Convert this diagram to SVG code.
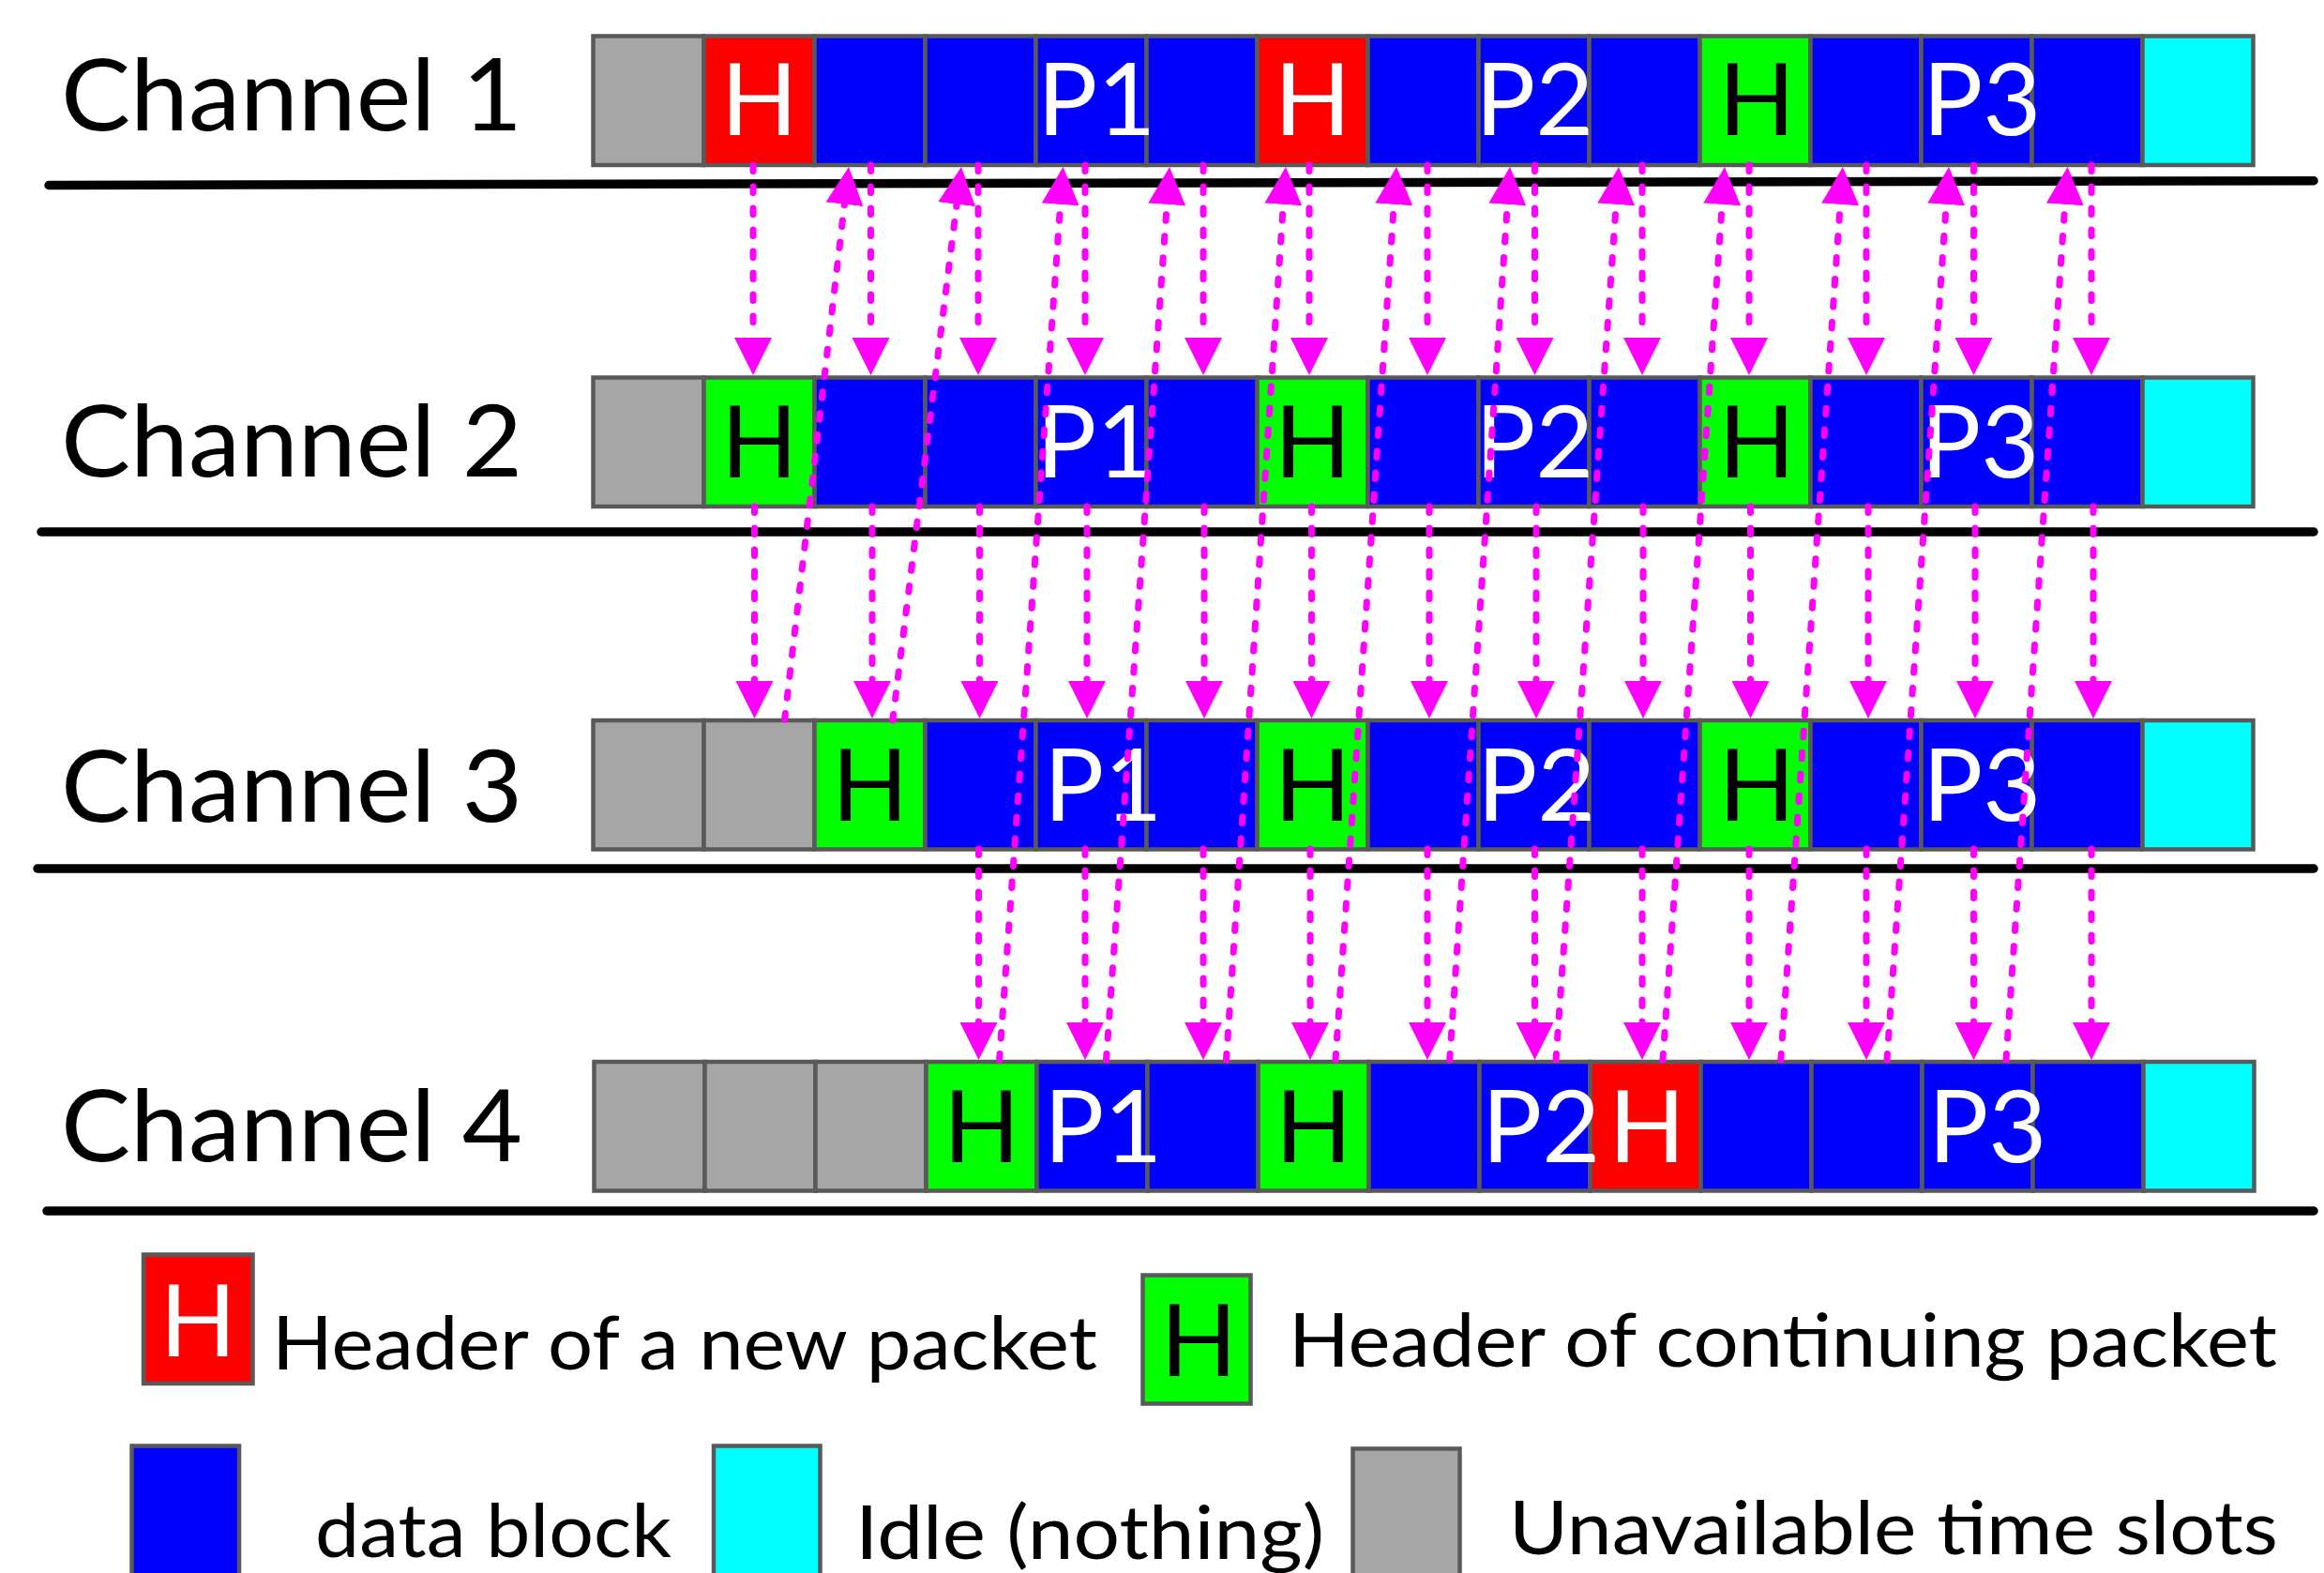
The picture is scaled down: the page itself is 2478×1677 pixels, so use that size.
<svg xmlns="http://www.w3.org/2000/svg" width="2478" height="1677" viewBox="0 0 2478 1677">
  <style>
    .cell { stroke: #595959; stroke-width: 4.5; stroke-linejoin: miter; }
    .gray { fill: #A6A6A6; }
    .red { fill: #FF0000; }
    .blue { fill: #0000FF; }
    .green { fill: #00FF00; }
    .cyan { fill: #00FFFF; }
    .label { font-family: Lato, "Open Sans", "DejaVu Sans", sans-serif; font-size: 107px; fill: #000; }
    .ctext { font-family: Lato, "Open Sans", "DejaVu Sans", sans-serif; font-size: 107px; }
    .mid { text-anchor: middle; }
    .w { fill: #FFFFFF; }
    .k { fill: #000000; }
    .legend { font-family: Lato, "Open Sans", "DejaVu Sans", sans-serif; font-size: 80px; fill: #000; }
    .rule { stroke: #000; stroke-width: 9.5; stroke-linecap: round; fill: none; }
    .link { stroke: #FF00FF; stroke-width: 7; stroke-dasharray: 6.5 16.5; stroke-linecap: round; fill: none; marker-end: url(#head); }
  </style>
  <defs>
    <marker id="head" markerUnits="userSpaceOnUse" viewBox="0 0 40 40" markerWidth="40" markerHeight="40" refX="0" refY="20" orient="auto">
      <path d="M0,0 L40,20 L0,40 Z" fill="#FF00FF"/>
    </marker>
  </defs>

  <!-- channel separators -->
  <g id="rules">
    <path class="rule" d="M52,197.5 L2467,192.7"/>
    <path class="rule" d="M44,567 L2467,567"/>
    <path class="rule" d="M40,926 L2467,926"/>
    <path class="rule" d="M50,1291 L2467,1291"/>
  </g>

  <!-- Channel 1 -->
  <g id="channel-1">
    <text class="label" x="65" y="138.5" textLength="492" lengthAdjust="spacingAndGlyphs">Channel 1</text>
    <g transform="translate(0,38.5)">
      <rect class="cell gray" x="632.5" y="0" width="118" height="137.5"/>
      <rect class="cell red" x="750.5" y="0" width="118" height="137.5"/>
      <rect class="cell blue" x="868.5" y="0" width="118" height="137.5"/>
      <rect class="cell blue" x="986.5" y="0" width="118" height="137.5"/>
      <rect class="cell blue" x="1104.5" y="0" width="118" height="137.5"/>
      <rect class="cell blue" x="1222.5" y="0" width="118" height="137.5"/>
      <rect class="cell red" x="1340.5" y="0" width="118" height="137.5"/>
      <rect class="cell blue" x="1458.5" y="0" width="118" height="137.5"/>
      <rect class="cell blue" x="1576.5" y="0" width="118" height="137.5"/>
      <rect class="cell blue" x="1694.5" y="0" width="118" height="137.5"/>
      <rect class="cell green" x="1812.5" y="0" width="118" height="137.5"/>
      <rect class="cell blue" x="1930.5" y="0" width="118" height="137.5"/>
      <rect class="cell blue" x="2048.5" y="0" width="118" height="137.5"/>
      <rect class="cell blue" x="2166.5" y="0" width="118" height="137.5"/>
      <rect class="cell cyan" x="2284.5" y="0" width="118" height="137.5"/>
      <text class="ctext w mid" x="809.5" y="105">H</text>
      <text class="ctext w" x="1106" y="105">P1</text>
      <text class="ctext w mid" x="1399.5" y="105">H</text>
      <text class="ctext w" x="1573" y="105">P2</text>
      <text class="ctext k mid" x="1873" y="105">H</text>
      <text class="ctext w" x="2050" y="105">P3</text>
    </g>
  </g>

  <!-- Channel 2 -->
  <g id="channel-2">
    <text class="label" x="65" y="508" textLength="492" lengthAdjust="spacingAndGlyphs">Channel 2</text>
    <g transform="translate(0,402.5)">
      <rect class="cell gray" x="632.5" y="0" width="118" height="137.5"/>
      <rect class="cell green" x="750.5" y="0" width="118" height="137.5"/>
      <rect class="cell blue" x="868.5" y="0" width="118" height="137.5"/>
      <rect class="cell blue" x="986.5" y="0" width="118" height="137.5"/>
      <rect class="cell blue" x="1104.5" y="0" width="118" height="137.5"/>
      <rect class="cell blue" x="1222.5" y="0" width="118" height="137.5"/>
      <rect class="cell green" x="1340.5" y="0" width="118" height="137.5"/>
      <rect class="cell blue" x="1458.5" y="0" width="118" height="137.5"/>
      <rect class="cell blue" x="1576.5" y="0" width="118" height="137.5"/>
      <rect class="cell blue" x="1694.5" y="0" width="118" height="137.5"/>
      <rect class="cell green" x="1812.5" y="0" width="118" height="137.5"/>
      <rect class="cell blue" x="1930.5" y="0" width="118" height="137.5"/>
      <rect class="cell blue" x="2048.5" y="0" width="118" height="137.5"/>
      <rect class="cell blue" x="2166.5" y="0" width="118" height="137.5"/>
      <rect class="cell cyan" x="2284.5" y="0" width="118" height="137.5"/>
      <text class="ctext k mid" x="809.5" y="106">H</text>
      <text class="ctext w" x="1105" y="106">P1</text>
      <text class="ctext k mid" x="1399.5" y="106">H</text>
      <text class="ctext w" x="1573" y="106">P2</text>
      <text class="ctext k mid" x="1873" y="106">H</text>
      <text class="ctext w" x="2048" y="106">P3</text>
    </g>
  </g>

  <!-- Channel 3 -->
  <g id="channel-3">
    <text class="label" x="65" y="876" textLength="492" lengthAdjust="spacingAndGlyphs">Channel 3</text>
    <g transform="translate(0,768)">
      <rect class="cell gray" x="632.5" y="0" width="118" height="137.5"/>
      <rect class="cell gray" x="750.5" y="0" width="118" height="137.5"/>
      <rect class="cell green" x="868.5" y="0" width="118" height="137.5"/>
      <rect class="cell blue" x="986.5" y="0" width="118" height="137.5"/>
      <rect class="cell blue" x="1104.5" y="0" width="118" height="137.5"/>
      <rect class="cell blue" x="1222.5" y="0" width="118" height="137.5"/>
      <rect class="cell green" x="1340.5" y="0" width="118" height="137.5"/>
      <rect class="cell blue" x="1458.5" y="0" width="118" height="137.5"/>
      <rect class="cell blue" x="1576.5" y="0" width="118" height="137.5"/>
      <rect class="cell blue" x="1694.5" y="0" width="118" height="137.5"/>
      <rect class="cell green" x="1812.5" y="0" width="118" height="137.5"/>
      <rect class="cell blue" x="1930.5" y="0" width="118" height="137.5"/>
      <rect class="cell blue" x="2048.5" y="0" width="118" height="137.5"/>
      <rect class="cell blue" x="2166.5" y="0" width="118" height="137.5"/>
      <rect class="cell cyan" x="2284.5" y="0" width="118" height="137.5"/>
      <text class="ctext k mid" x="927.5" y="107">H</text>
      <text class="ctext w" x="1113" y="107">P1</text>
      <text class="ctext k mid" x="1399.5" y="107">H</text>
      <text class="ctext w" x="1575" y="107">P2</text>
      <text class="ctext k mid" x="1873" y="107">H</text>
      <text class="ctext w" x="2050" y="107">P3</text>
    </g>
  </g>

  <!-- Channel 4 -->
  <g id="channel-4">
    <text class="label" x="65" y="1238" textLength="492" lengthAdjust="spacingAndGlyphs">Channel 4</text>
    <g transform="translate(1,1132)">
      <rect class="cell gray" x="632.5" y="0" width="118" height="137.5"/>
      <rect class="cell gray" x="750.5" y="0" width="118" height="137.5"/>
      <rect class="cell gray" x="868.5" y="0" width="118" height="137.5"/>
      <rect class="cell green" x="986.5" y="0" width="118" height="137.5"/>
      <rect class="cell blue" x="1104.5" y="0" width="118" height="137.5"/>
      <rect class="cell blue" x="1222.5" y="0" width="118" height="137.5"/>
      <rect class="cell green" x="1340.5" y="0" width="118" height="137.5"/>
      <rect class="cell blue" x="1458.5" y="0" width="118" height="137.5"/>
      <rect class="cell blue" x="1576.5" y="0" width="118" height="137.5"/>
      <rect class="cell red" x="1694.5" y="0" width="118" height="137.5"/>
      <rect class="cell blue" x="1812.5" y="0" width="118" height="137.5"/>
      <rect class="cell blue" x="1930.5" y="0" width="118" height="137.5"/>
      <rect class="cell blue" x="2048.5" y="0" width="118" height="137.5"/>
      <rect class="cell blue" x="2166.5" y="0" width="118" height="137.5"/>
      <rect class="cell cyan" x="2284.5" y="0" width="118" height="137.5"/>
      <text class="ctext k mid" x="1045.5" y="107">H</text>
      <text class="ctext w" x="1112" y="107">P1</text>
      <text class="ctext k mid" x="1399.5" y="107">H</text>
      <text class="ctext w" x="1579" y="107">P2</text>
      <text class="ctext w mid" x="1755" y="107">H</text>
      <text class="ctext w" x="2055" y="107">P3</text>
    </g>
  </g>

  <!-- Legend -->
  <g id="legend-new-header">
    <rect class="cell red" x="153" y="1337.5" width="116.5" height="137.5"/>
    <text class="ctext w mid" x="211" y="1445.5">H</text>
    <text class="legend" x="290" y="1460" textLength="880" lengthAdjust="spacingAndGlyphs">Header of a new packet</text>
  </g>
  <g id="legend-continuing-header">
    <rect class="cell green" x="1218.5" y="1359.5" width="115" height="137"/>
    <text class="ctext k mid" x="1278" y="1467">H</text>
    <text class="legend" x="1374" y="1457" textLength="1054" lengthAdjust="spacingAndGlyphs">Header of continuing packet</text>
  </g>
  <g id="legend-data">
    <rect class="cell blue" x="140.5" y="1541.5" width="114.5" height="142"/>
    <text class="legend" x="336" y="1660" textLength="380" lengthAdjust="spacingAndGlyphs">data block</text>
  </g>
  <g id="legend-idle">
    <rect class="cell cyan" x="761" y="1541.5" width="113.5" height="142"/>
    <text class="legend" x="912" y="1662" textLength="500" lengthAdjust="spacingAndGlyphs">Idle (nothing)</text>
  </g>
  <g id="legend-unavailable">
    <rect class="cell gray" x="1442.5" y="1544.5" width="114" height="142"/>
    <text class="legend" x="1609" y="1657" textLength="820" lengthAdjust="spacingAndGlyphs">Unavailable time slots</text>
  </g>

  <!-- Block transfers between channels -->
  <g id="connectors">
    <!-- channel 1 to channel 2 -->
    <path class="link" d="M803,176 L803,360"/>
    <path class="link" d="M928.5,176 L928.5,360"/>
    <path class="link" d="M1043,176 L1043,360"/>
    <path class="link" d="M1157,176 L1157,360"/>
    <path class="link" d="M1283,176 L1283,360"/>
    <path class="link" d="M1396,176 L1396,360"/>
    <path class="link" d="M1522,176 L1522,360"/>
    <path class="link" d="M1636.5,176 L1636.5,360"/>
    <path class="link" d="M1751,176 L1751,360"/>
    <path class="link" d="M1865,176 L1865,360"/>
    <path class="link" d="M1990,176 L1990,360"/>
    <path class="link" d="M2104.5,176 L2104.5,360"/>
    <path class="link" d="M2230,176 L2230,360"/>
    <!-- channel 2 to channel 3 -->
    <path class="link" d="M804.5,540 L804.5,726"/>
    <path class="link" d="M930,540 L930,726"/>
    <path class="link" d="M1044.5,540 L1044.5,726"/>
    <path class="link" d="M1159,540 L1159,726"/>
    <path class="link" d="M1284,540 L1284,726"/>
    <path class="link" d="M1398.5,540 L1398.5,726"/>
    <path class="link" d="M1524,540 L1524,726"/>
    <path class="link" d="M1638,540 L1638,726"/>
    <path class="link" d="M1752,540 L1752,726"/>
    <path class="link" d="M1866.5,540 L1866.5,726"/>
    <path class="link" d="M1992,540 L1992,726"/>
    <path class="link" d="M2106,540 L2106,726"/>
    <path class="link" d="M2232,540 L2232,726"/>
    <!-- channel 3 to channel 4 -->
    <path class="link" d="M1043.5,905 L1043.5,1090"/>
    <path class="link" d="M1157,905 L1157,1090"/>
    <path class="link" d="M1283,905 L1283,1090"/>
    <path class="link" d="M1397,905 L1397,1090"/>
    <path class="link" d="M1522,905 L1522,1090"/>
    <path class="link" d="M1636.5,905 L1636.5,1090"/>
    <path class="link" d="M1751,905 L1751,1090"/>
    <path class="link" d="M1865,905 L1865,1090"/>
    <path class="link" d="M1990,905 L1990,1090"/>
    <path class="link" d="M2104.5,905 L2104.5,1090"/>
    <path class="link" d="M2230,905 L2230,1090"/>
    <!-- returns to channel 1 -->
    <path class="link" d="M836.6,767 L900.4,217.7"/>
    <path class="link" d="M951.8,768 L1020.1,217.7"/>
    <path class="link" d="M1065.6,1130 L1130.7,217.9"/>
    <path class="link" d="M1179.5,1130 L1244.2,217.9"/>
    <path class="link" d="M1307.5,1130 L1368.3,217.9"/>
    <path class="link" d="M1424,1130 L1486.3,217.9"/>
    <path class="link" d="M1545.7,1130 L1607.3,217.9"/>
    <path class="link" d="M1659,1130 L1723.2,217.9"/>
    <path class="link" d="M1773,1130 L1836.2,217.9"/>
    <path class="link" d="M1898.8,1130 L1962.2,217.9"/>
    <path class="link" d="M2012,1130 L2075.2,217.9"/>
    <path class="link" d="M2139,1130 L2201.8,217.9"/>
  </g>
</svg>
